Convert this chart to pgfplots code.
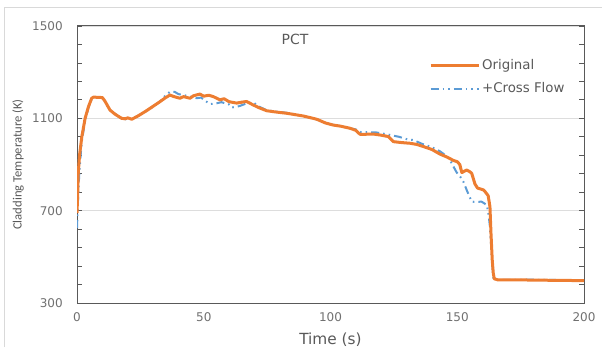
\documentclass[border=0pt]{standalone}
\usepackage{pgfplots}
\pgfplotsset{compat=1.18}
\usepackage{fontspec}
\setmainfont{DejaVu Sans}
\newfontfamily\carlito{Carlito}
\definecolor{origc}{HTML}{ED7D31}
\definecolor{crossc}{HTML}{5B9BD5}
\definecolor{axc}{HTML}{595959}
\definecolor{txtc}{HTML}{707070}
\definecolor{gridc}{HTML}{DDDDDD}
\definecolor{framec}{HTML}{D9D9D9}
\begin{document}
\begin{tikzpicture}[x=1pt,y=1pt]
\useasboundingbox (-57.75,-33) rectangle (393.75,227.25);
\draw[color=framec, line width=0.75pt] (-54,-33) -- (-54,221.25) -- (393.75,221.25);
\begin{axis}[
  at={(0,0)}, anchor=south west, scale only axis,
  width=380.25pt, height=207.75pt,
  xmin=0, xmax=200, ymin=300, ymax=1500,
  xtick={0,50,100,150,200}, ytick={300,700,1100,1500},
  minor y tick num=4,
  tick align=inside,
  major tick length=3.75pt, minor tick length=3.75pt,
  xtick style={draw=none},
  ytick style={color=axc, line width=0.6pt},
  minor y tick style={color=axc, line width=0.6pt},
  ymajorgrids, grid style={color=gridc, line width=0.6pt},
  axis line style={color=axc, line width=0.75pt},
  scaled y ticks=false, scaled x ticks=false,
  /pgf/number format/assume math mode=true,
  /pgf/number format/1000 sep={},
  yticklabel style={font=\fontsize{9}{10}\selectfont, color=txtc, anchor=east, inner sep=0pt, xshift=-10.5pt},
  xticklabel style={font=\fontsize{9}{10}\selectfont, color=txtc, anchor=center, inner sep=0pt, yshift=-10.5pt},
  xlabel={Time (s)},
  xlabel style={at={(axis description cs:0.5,-0.133)}, anchor=center, font=\fontsize{11.5}{13}\selectfont, color=axc},
  ylabel={Cladding Temperature (K)},
  ylabel style={at={(axis description cs:-0.1164,0.5)}, anchor=center, font=\carlito\fontsize{9.5}{11}\selectfont, color=axc},
  legend style={at={(axis description cs:0.694,0.887)}, anchor=north west, draw=none, fill=none,
    font=\fontsize{10}{12}\selectfont, text=axc, row sep=5.25pt, inner sep=0pt, nodes={inner sep=1.5pt}},
  legend cell align=left,
  reverse legend,
  legend image code/.code={\draw[#1] (0pt,0pt) -- (36pt,0pt);},
]
\addplot[color=crossc, line width=1.5pt, line join=round, dash pattern=on 6pt off 3pt on 1.2pt off 3pt on 1.2pt off 3pt] coordinates {
(0,625) (0.5,776) (1,880) (1.9,1000) (3.2,1090) (4.5,1145) (5.8,1185) (6.5,1192) (10,1190) (11,1175) (13,1136) (17.6,1098) (19,1096) (21.6,1098) (24,1110) (27,1130) (30,1150) (32.7,1172) (35,1200) (36.7,1215) (38.5,1215) (40,1205) (42,1201) (44,1196) (47.2,1187) (49,1190) (50,1180) (52.5,1162) (55,1165) (57,1170) (60,1160) (61,1147) (63,1150) (64.3,1154) (67,1165) (69.5,1169) (72,1150) (74.8,1135) (78,1130) (82.7,1124) (86,1118) (89.3,1110) (92,1102) (94.6,1095) (98,1080) (101,1072) (104,1066) (107,1058) (110,1052) (112,1040) (114.3,1040) (118,1039) (120,1035) (123.5,1028) (127,1020) (130,1010) (132.7,1006) (136,990) (140,975) (143.2,957) (146,935) (147.1,920) (148.5,891) (149.8,865) (151,850) (152.4,826) (153.7,790) (155.7,739) (157.5,738) (159.6,739) (161.6,725) (162.2,696) (162.8,640) (163.3,560) (163.8,470) (164.3,405) (166,400) (180,401) (200,398)
};
\addlegendentry{+Cross Flow}
\addplot[color=origc, line width=2.25pt, line join=round] coordinates {
(0,690) (0.3,780) (0.5,863) (1,940) (1.9,1020) (3.2,1100) (4.5,1150) (5.8,1187) (6.5,1192) (8,1191) (10,1190) (11,1175) (13,1136) (15,1118) (17.6,1100) (19,1098) (20,1102) (21.6,1096) (24,1110) (27,1130) (30,1152) (32.7,1172) (35,1190) (36.7,1201) (38,1195) (40.6,1187) (42,1194) (44.6,1187) (46,1198) (48.5,1205) (50,1196) (52,1200) (53.8,1194) (56.4,1180) (58,1185) (60,1172) (63,1166) (65,1170) (66.9,1173) (69.5,1158) (72,1145) (74.8,1133) (78,1128) (82.7,1122) (86,1116) (89.3,1110) (92,1103) (94.6,1096) (98,1080) (101,1071) (104,1066) (107.7,1057) (110,1048) (111.6,1031) (114,1031) (116.9,1032) (120,1027) (122.8,1021) (124.8,999) (128,995) (131.4,992) (134,987) (136.6,978) (140,965) (143.2,945) (146,932) (148.4,918) (150,912) (151,900) (151.8,865) (153,872) (153.7,876) (154.8,870) (155.7,862) (157,815) (158,798) (160.3,790) (161,782) (162.2,765) (162.9,717) (163.3,603) (163.8,486) (164.2,430) (164.6,405) (166,400) (175,400) (190,398) (200,397)
};
\addlegendentry{Original}
\node[anchor=center, font=\fontsize{10.5}{12}\selectfont, color=axc] at (rel axis cs:0.43,0.952) {PCT};
\end{axis}
\end{tikzpicture}
\end{document}
